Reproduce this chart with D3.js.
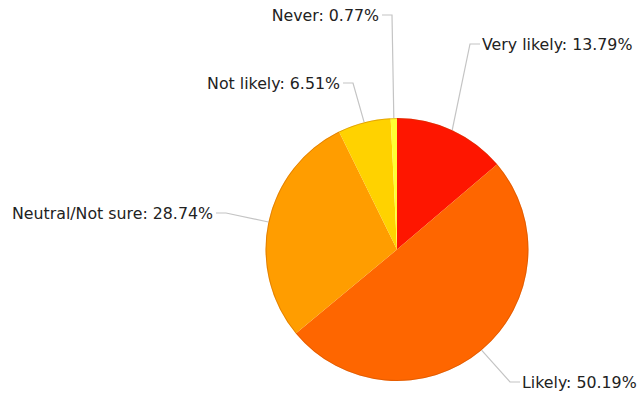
<!DOCTYPE html>
<html>
<head>
<meta charset="utf-8">
<script src="https://cdn.jsdelivr.net/npm/d3@7"></script>
<style>
  body { margin: 0; background: #fff; }
  svg { display: block; }
</style>
</head>
<body>
<div id="chart"></div>
<script>
// data
const categories = ["Very likely", "Likely", "Neutral/Not sure", "Not likely", "Never"];
const shares = [13.79, 50.19, 28.74, 6.51, 0.77];
const colors = ["#fe1600", "#fe6600", "#ff9d00", "#ffd200", "#ffff33"];

// label callout layout: elbow point and text side (pixels, separate from data)
const labelElbow = [[470, 44], [510, 382], [226, 213], [353, 83], [392, 15]];
const labelSide = ["right", "right", "left", "left", "left"];

const width = 643, height = 394;
const cx = 397, cy = 249.5, radius = 131.5;

const svg = d3.select("#chart").append("svg")
    .attr("width", width)
    .attr("height", height);

const pie = d3.pie().sort(null).value(d => d.value);
const arcs = pie(categories.map((c, i) => ({ key: c, value: shares[i], color: colors[i] })));
const arc = d3.arc().innerRadius(0).outerRadius(radius);

const g = svg.append("g").attr("transform", `translate(${cx},${cy})`);

g.selectAll("path.slice")
  .data(arcs)
  .join("path")
    .attr("class", "slice")
    .attr("d", arc)
    .attr("fill", d => d.data.color);

// soft darker rim like the original
g.append("circle")
    .attr("r", radius - 0.5)
    .attr("fill", "none")
    .attr("stroke", "#b04a00")
    .attr("stroke-opacity", 0.35)
    .attr("stroke-width", 1);

// leader lines
const labels = svg.append("g");
arcs.forEach((d, i) => {
  const mid = (d.startAngle + d.endAngle) / 2;
  const ex = cx + radius * Math.sin(mid);
  const ey = cy - radius * Math.cos(mid);
  const [bx, by] = labelElbow[i];
  const right = labelSide[i] === "right";
  const tx = right ? bx + 10 : bx - 10;
  labels.append("polyline")
    .attr("points", `${ex},${ey} ${bx},${by} ${tx},${by}`)
    .attr("fill", "none")
    .attr("stroke", "#c4c4c4")
    .attr("stroke-width", 1.2);
  labels.append("text")
    .attr("x", right ? tx + 2 : tx - 3)
    .attr("y", by)
    .attr("dy", "0.35em")
    .attr("text-anchor", right ? "start" : "end")
    .attr("font-family", "DejaVu Sans, sans-serif")
    .attr("font-size", 15.8)
    .attr("fill", "#222")
    .text(`${d.data.key}: ${d3.format(".2f")(d.data.value)}%`);
});
</script>
</body>
</html>
